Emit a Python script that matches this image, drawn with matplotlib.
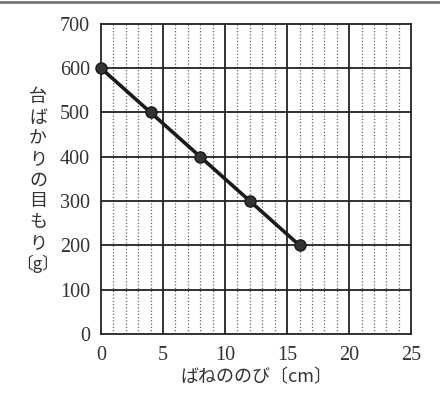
import numpy as np
import matplotlib.pyplot as plt
from matplotlib.lines import Line2D

# spring stretch (cm) vs scale reading (g)
stretch_cm = [0, 4, 8, 12, 16]
reading_g = [600, 500, 400, 300, 200]
x_ticks = [0, 5, 10, 15, 20, 25]
y_ticks = [0, 100, 200, 300, 400, 500, 600, 700]

jp = ['Noto Sans CJK JP', 'DejaVu Sans']
num_font = 'Liberation Serif'

fig = plt.figure(figsize=(4.4, 3.98), dpi=100)
ax = fig.add_axes([0.2295, 0.161, 0.705, 0.779])

# dotted minor grid (verticals every 1 cm)
for xm in range(1, 25):
    if xm % 5:
        ax.axvline(xm, color='#666666', lw=0.9, ls=(0, (1, 1.6)), zorder=1)
for xv in x_ticks[1:-1]:
    ax.axvline(xv, color='#222222', lw=1.3, zorder=2)
for yv in y_ticks[1:-1]:
    ax.axhline(yv, color='#222222', lw=1.3, zorder=2)

ax.plot(stretch_cm, reading_g, color='#1a1a1a', lw=2.6, marker='o',
        ms=8, mfc='#333333', mec='#1a1a1a', zorder=3, clip_on=False)

ax.set_xlim(0, 25)
ax.set_ylim(0, 700)
ax.set_xticks(x_ticks)
ax.set_yticks(y_ticks)
ax.tick_params(axis='x', length=0, pad=9, labelsize=14.5, colors='#333333')
ax.tick_params(axis='y', length=0, pad=8, labelsize=14.5, colors='#333333')
for lab in ax.get_xticklabels() + ax.get_yticklabels():
    lab.set_family(num_font)
for s in ax.spines.values():
    s.set_color('#222222')
    s.set_linewidth(1.3)

ax.set_xlabel('ばねののび〔cm〕', family=jp, fontsize=13, color='#333333',
              labelpad=2)

# vertical japanese label, one character per line
ylab = '台ばかりの目もり'
for i, ch in enumerate(ylab):
    fig.text(38 / 440, 1 - (97 + i * 20.8) / 398, ch, family=jp, fontsize=13,
             color='#333333', ha='center', va='center')
fig.text(38 / 440, 1 - 264 / 398, '〔g〕', family=jp, fontsize=12,
         color='#333333', ha='center', va='center')

# thin frame line at the top of the picture
fig.add_artist(Line2D([0, 1], [0.996, 0.996], color='#777777', lw=2,
                      transform=fig.transFigure))

fig.savefig('out.png', dpi=100)
